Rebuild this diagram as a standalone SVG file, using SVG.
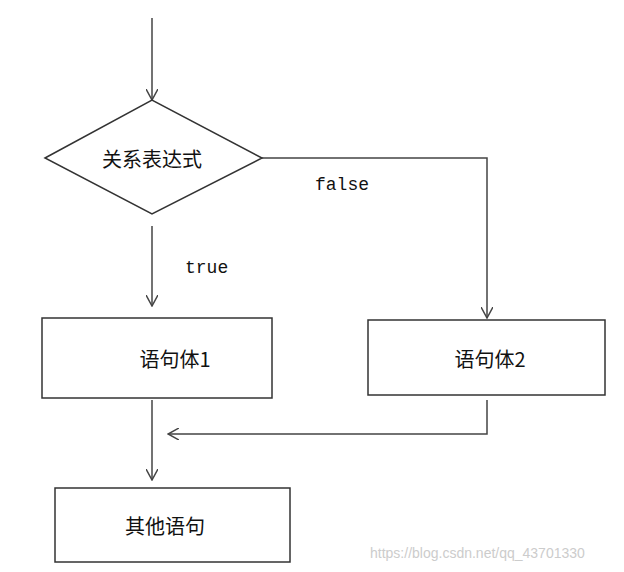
<svg xmlns="http://www.w3.org/2000/svg" width="624" height="572" viewBox="0 0 624 572">
<style>
.s{fill:#fff;stroke:#333;stroke-width:1.5}
.l{fill:none;stroke:#444;stroke-width:1.5}
.t{font-family:"Noto Sans CJK SC","Noto Sans",sans-serif;font-size:20px;fill:#111;text-anchor:middle;dominant-baseline:central}
.m{font-family:"Liberation Mono",monospace;font-size:18px;fill:#111}
</style>
<defs><marker id="a" viewBox="0 0 12 12" refX="11" refY="6" markerWidth="12" markerHeight="12" markerUnits="userSpaceOnUse" orient="auto"><path d="M0,0L11,6L0,12" fill="none" stroke="#444" stroke-width="1.5"/></marker></defs>
<rect width="624" height="572" fill="#fff"/>
<g id="connectors">
<path class="l" d="M152,18V100" marker-end="url(#a)"/>
<path class="l" d="M262,158H487V318" marker-end="url(#a)"/>
<path class="l" d="M152,226V306" marker-end="url(#a)"/>
<path class="l" d="M487,400V434H168" marker-end="url(#a)"/>
<path class="l" d="M152,400V480" marker-end="url(#a)"/>
<text class="m" x="315" y="190">false</text>
<text class="m" x="185" y="273">true</text>
</g>
<g id="cond"><polygon class="s" points="45,158 152,100 262,158 152,214"/><text class="t" x="152" y="158">关系表达式</text></g>
<g id="body1"><rect class="s" x="42" y="318" width="230" height="80"/><text class="t" x="175" y="358">语句体1</text></g>
<g id="body2"><rect class="s" x="368" y="320" width="237" height="75"/><text class="t" x="490" y="358">语句体2</text></g>
<g id="other"><rect class="s" x="55" y="488" width="235" height="74"/><text class="t" x="165" y="525">其他语句</text></g>
<text x="370" y="558" font-family="Liberation Sans,sans-serif" font-size="14" fill="#ccc">https://blog.csdn.net/qq_43701330</text>
</svg>
